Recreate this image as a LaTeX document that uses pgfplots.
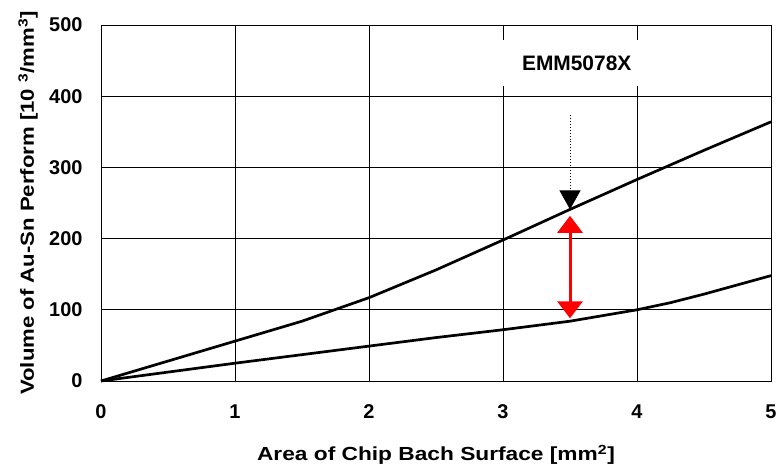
\documentclass[border=0pt]{standalone}
\usepackage{fontspec}
\setmainfont{Liberation Sans}
\usepackage{pgfplots}
\pgfplotsset{compat=1.18}
\usetikzlibrary{arrows.meta}
\begin{document}
\begin{tikzpicture}
\begin{axis}[
  at={(0,0)}, anchor=south west,
  scale only axis, width=670bp, height=356bp,
  xmin=0, xmax=5, ymin=0, ymax=500,
  xtick={0,1,2,3,4,5}, ytick={0,100,200,300,400,500},
  major tick length=0pt,
  grid=major,
  major grid style={black, line width=0.8bp},
  axis line style={black, line width=0.9bp},
  /pgf/number format/assume math mode=true,
  ticklabel style={font=\bfseries\fontsize{20}{22}\selectfont},
  xticklabel style={yshift=-20bp},
  yticklabel style={xshift=-15bp},
  xlabel={Area of Chip Bach Surface [mm\textsuperscript{2}]},
  ylabel={Volume of Au-Sn Perform [10 \textsuperscript{3}/mm\textsuperscript{3}]},
  xlabel style={font=\bfseries\fontsize{19}{21}\selectfont, at={(axis description cs:0.5,0)}, anchor=center, yshift=-74bp, xscale=1.2},
  ylabel style={font=\bfseries\fontsize{19}{21}\selectfont, at={(axis description cs:0,0.5)}, anchor=center, yshift=73bp, xscale=1.17},
  clip=false,
]
\addplot[black, line width=2.7bp] coordinates {
  (0,0) (0.5,28) (1,56) (1.5,84) (2,117) (2.5,156) (3,198) (3.5,241) (4,283) (4.5,324) (5,364)
};
\addplot[black, line width=2.7bp] coordinates {
  (0,0) (0.5,12.5) (1,25) (1.5,37) (2,49) (2.5,61) (3,72) (3.5,84) (4,100) (4.25,110) (4.5,122) (5,148)
};
\draw[black, line width=0.9bp, dotted, -{Triangle[width=21bp,length=19bp]}] (axis cs:3.5,373) -- (axis cs:3.5,241);
\draw[red, line width=3bp, {Triangle[width=25bp,length=17bp]}-{Triangle[width=25bp,length=17bp]}] (axis cs:3.5,232) -- (axis cs:3.5,88);
\node[fill=white, inner sep=0pt, minimum width=170bp, minimum height=46bp, font=\bfseries\fontsize{21}{23}\selectfont] at (axis cs:3.55,446) {EMM5078X};
\end{axis}
\pgfresetboundingbox
\useasboundingbox (-101bp,-87bp) rectangle (676bp,381bp);
\end{tikzpicture}
\end{document}
